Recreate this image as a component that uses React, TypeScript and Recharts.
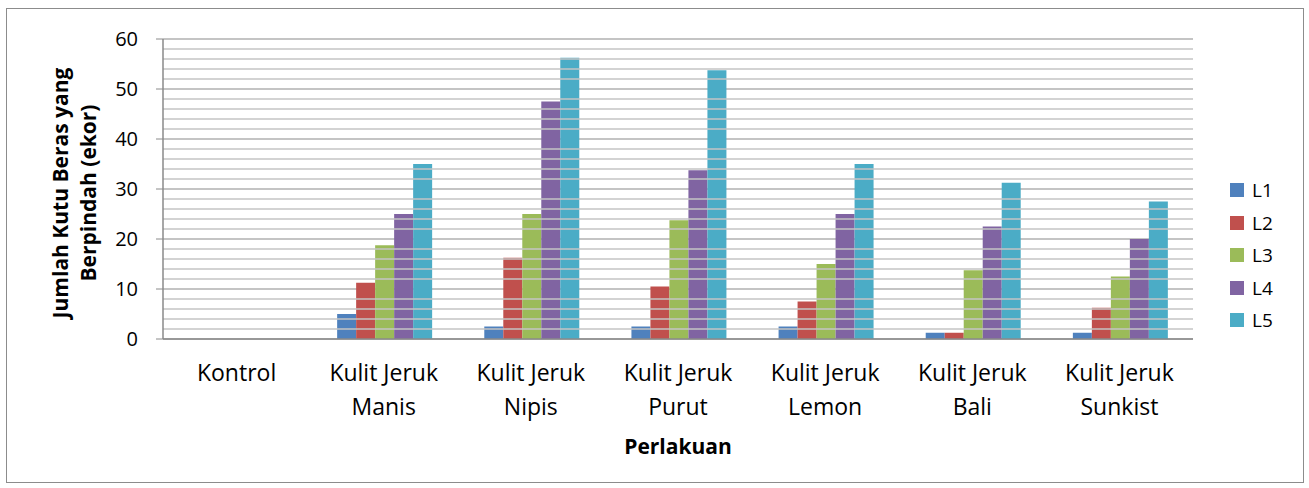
import React from "react"
import { Bar, BarChart, CartesianGrid, Legend, ReferenceLine, XAxis, YAxis } from "recharts"

const categories = [
  "Kontrol",
  "Kulit Jeruk Manis",
  "Kulit Jeruk Nipis",
  "Kulit Jeruk Purut",
  "Kulit Jeruk Lemon",
  "Kulit Jeruk Bali",
  "Kulit Jeruk Sunkist",
]

const L1 = [0, 5, 2.5, 2.5, 2.5, 1.25, 1.25]
const L2 = [0, 11.25, 16.25, 10.5, 7.5, 1.25, 6.25]
const L3 = [0, 18.75, 25, 23.75, 15, 13.75, 12.5]
const L4 = [0, 25, 47.5, 33.75, 25, 22.5, 20]
const L5 = [0, 35, 56.25, 53.75, 35, 31.25, 27.5]

const yTicks = [0, 10, 20, 30, 40, 50, 60]
const minorTicks = [2, 4, 6, 8, 12, 14, 16, 18, 22, 24, 26, 28, 32, 34, 36, 38, 42, 44, 46, 48, 52, 54, 56, 58]

const series = [
  { key: "L1", color: "#4F81BD" },
  { key: "L2", color: "#C0504D" },
  { key: "L3", color: "#9BBB59" },
  { key: "L4", color: "#8064A2" },
  { key: "L5", color: "#4BACC6" },
]

const data = categories.map((name, i) => ({
  name,
  L1: L1[i],
  L2: L2[i],
  L3: L3[i],
  L4: L4[i],
  L5: L5[i],
}))

const FONT = "'Open Sans', sans-serif"

function CategoryTick(props: any) {
  const { x, y, payload } = props
  const text: string = payload.value
  const lines = text.startsWith("Kulit Jeruk ")
    ? ["Kulit Jeruk", text.slice("Kulit Jeruk ".length)]
    : [text]
  return (
    <text x={x} y={y + 34} textAnchor="middle" fill="#000" fontSize={23} fontFamily={FONT}>
      {lines.map((l, i) => (
        <tspan key={i} x={x} dy={i === 0 ? 0 : 34}>
          {l}
        </tspan>
      ))}
    </text>
  )
}

function LegendBox() {
  return (
    <div style={{ fontFamily: FONT, fontSize: 19 }}>
      {series.map((s) => (
        <div key={s.key} style={{ display: "flex", alignItems: "center", height: 32.5 }}>
          <div style={{ width: 14, height: 14, background: s.color, marginRight: 8 }} />
          <span>{s.key}</span>
        </div>
      ))}
    </div>
  )
}

export default function App() {
  return (
    <div style={{ position: "absolute", left: 0, top: 0, width: 1309, height: 488, background: "#fff" }}>
      <div
        style={{
          position: "absolute",
          left: 6,
          top: 8,
          width: 1296,
          height: 473,
          border: "1px solid #8c8c8c",
        }}
      />
      <div style={{ position: "absolute", left: 0, top: 0 }}>
        <BarChart
          width={1309}
          height={488}
          data={data}
          margin={{ top: 39, right: 116, left: 103, bottom: 59 }}
          barCategoryGap={27}
          barGap={0}
        >
          <CartesianGrid vertical={false} stroke="#8a8a8a" strokeWidth={1.2} />
          {minorTicks.map((v) => (
            <ReferenceLine key={v} y={v} stroke="#c4c4c4" strokeWidth={1.5} ifOverflow="visible" />
          ))}
          <XAxis
            dataKey="name"
            tick={<CategoryTick />}
            tickLine={false}
            axisLine={{ stroke: "#8a8a8a", strokeWidth: 1.5 }}
            height={90}
            interval={0}
            label={{
              value: "Perlakuan",
              position: "insideBottom",
              offset: -25,
              fill: "#000",
              fontSize: 21,
              fontWeight: "bold",
              fontFamily: FONT,
            }}
          />
          <YAxis
            width={60}
            domain={[0, 60]}
            ticks={yTicks}
            interval={0}
            tick={{ fill: "#000", fontSize: 20, fontFamily: FONT }}
            tickLine={{ stroke: "#8a8a8a" }}
            tickSize={7}
            tickMargin={18}
            axisLine={{ stroke: "#8a8a8a", strokeWidth: 1.5 }}
          />
          <Legend
            layout="horizontal"
            verticalAlign="middle"
            align="center"
            content={<LegendBox />}
            wrapperStyle={{ position: "absolute", left: 1230, top: 174, width: 60 }}
          />
          {series.map((s) => (
            <Bar key={s.key} dataKey={s.key} fill={s.color} isAnimationActive={false} />
          ))}
        </BarChart>
      </div>
      <div
        style={{
          position: "absolute",
          left: 74,
          top: 193,
          transform: "translate(-50%, -50%) rotate(-90deg)",
          fontFamily: FONT,
          fontWeight: "bold",
          fontSize: 21,
          lineHeight: "28px",
          textAlign: "center",
          whiteSpace: "nowrap",
        }}
      >
        Jumlah Kutu Beras yang
        <br />
        Berpindah (ekor)
      </div>
    </div>
  )
}
